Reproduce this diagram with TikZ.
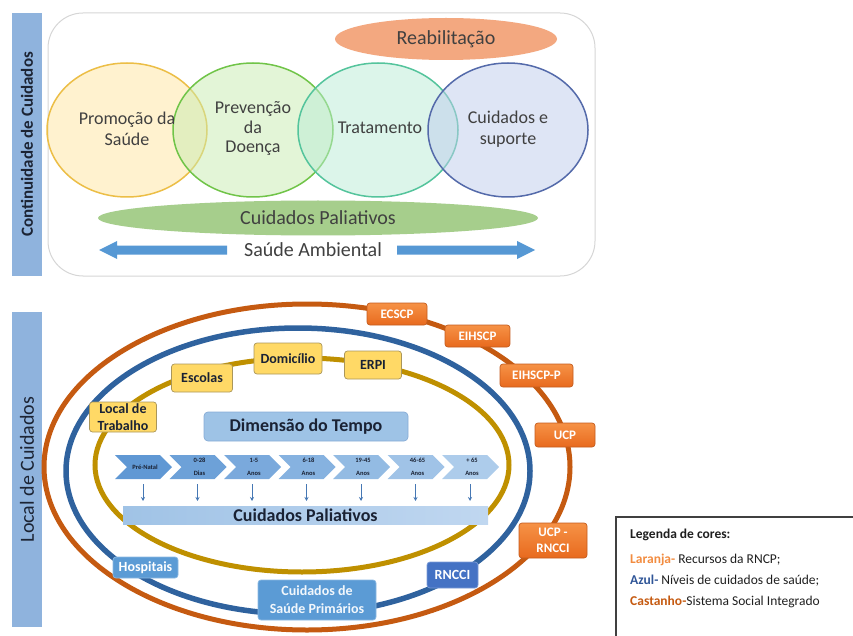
\documentclass[tikz,border=0pt]{standalone}
\usepackage{fontspec}
\setmainfont{Carlito}
\usetikzlibrary{arrows.meta,calc,shapes.geometric}

% palette
\definecolor{sidebar}{RGB}{143,179,221}
\definecolor{sidetext}{RGB}{28,36,52}
\definecolor{softtext}{RGB}{64,64,64}
\definecolor{frame}{RGB}{214,214,214}
\definecolor{promoLine}{RGB}{236,190,70}
\definecolor{promoFill}{RGB}{255,230,160}
\definecolor{prevLine}{RGB}{112,196,72}
\definecolor{prevFill}{RGB}{200,236,176}
\definecolor{tratLine}{RGB}{84,196,156}
\definecolor{tratFill}{RGB}{186,236,214}
\definecolor{supLine}{RGB}{84,106,170}
\definecolor{supFill}{RGB}{190,204,236}
\definecolor{reabFill}{RGB}{243,168,128}
\definecolor{palFill}{RGB}{166,206,140}
\definecolor{ambArrow}{RGB}{86,152,212}
\definecolor{ringBrown}{RGB}{197,90,17}
\definecolor{ringBlue}{RGB}{47,98,158}
\definecolor{ringGold}{RGB}{191,144,0}
\definecolor{placeFill}{RGB}{255,217,102}
\definecolor{placeLine}{RGB}{170,150,90}
\definecolor{resTop}{RGB}{246,146,70}
\definecolor{resBottom}{RGB}{232,106,30}
\definecolor{resLine}{RGB}{196,92,30}
\definecolor{levelFill}{RGB}{91,155,213}
\definecolor{levelDark}{RGB}{68,114,196}
\definecolor{timeFill}{RGB}{158,195,230}
\definecolor{timeLine}{RGB}{135,172,214}
\definecolor{chevA}{RGB}{96,152,212}
\definecolor{chevB}{RGB}{176,206,236}
\definecolor{palBarA}{RGB}{160,195,230}
\definecolor{palBarB}{RGB}{192,215,240}
\definecolor{darkNavy}{RGB}{26,34,52}
\definecolor{tickBlue}{RGB}{70,120,180}
\definecolor{legOrange}{RGB}{242,140,64}
\definecolor{legBlue}{RGB}{47,85,151}
\definecolor{legBrown}{RGB}{197,90,17}
\definecolor{legFrame}{RGB}{64,64,64}

\begin{document}
\begin{tikzpicture}[x=1pt,y=-1pt,
  sidelabel/.style={rotate=90, text=sidetext, inner sep=0pt},
  venn/.style={ellipse, minimum width=160pt, minimum height=134pt, inner sep=0pt,
    line width=1.5pt, fill opacity=0.5},
  venntext/.style={align=center, text=softtext, font=\fontsize{18}{21}\selectfont},
  blob/.style={ellipse, inner sep=0pt, text=softtext, font=\fontsize{20}{24}\selectfont},
  ring/.style={line width=5pt},
  place/.style={draw=placeLine, fill=placeFill, rounded corners=3pt, line width=0.7pt,
    font=\bfseries\fontsize{14}{16.5}\selectfont, text=darkNavy, align=center, inner sep=1pt},
  resource/.style={draw=resLine, top color=resTop, bottom color=resBottom, rounded corners=3pt,
    line width=0.7pt, font=\bfseries\fontsize{13}{16}\selectfont, text=white, align=center, inner sep=1pt},
  level/.style={fill=levelFill, draw=levelFill!70!white, rounded corners=3pt, line width=0.7pt,
    font=\bfseries\fontsize{14}{18}\selectfont, text=white, align=center, inner sep=1pt},
  chevlab/.style={align=center, text=darkNavy, inner sep=0pt,
    font=\bfseries\fontsize{6.5}{13}\selectfont},
  tick/.style={draw=tickBlue, line width=0.8pt, -{Stealth[length=4pt,width=4pt]}},
  legtext/.style={anchor=west, inner sep=0pt, text=black!88, font=\fontsize{13.5}{16}\selectfont}
]
\useasboundingbox (0,0) rectangle (853,636);

% ---------- continuity of care ----------
\fill[sidebar] (12,13) rectangle (42,276);
\node[sidelabel, font=\bfseries\fontsize{17}{20}\selectfont] (contLabel) at (27,144.5) {Continuidade de Cuidados};

\draw[frame, fill=white, line width=1pt, rounded corners=35pt] (48,13) rectangle (595,276);

\node[blob, fill=reabFill, minimum width=222pt, minimum height=42pt] (reab) at (446,39) {Reabilitação};

\node[venn, draw=promoLine, fill=promoFill] (promo) at (127,130) {};
\node[venn, draw=prevLine, fill=prevFill] (prev) at (253,130) {};
\node[venn, draw=tratLine, fill=tratFill] (trat) at (378,130) {};
\node[venn, draw=supLine, fill=supFill] (sup) at (508,130) {};

\node[venntext] (promoT) at (127,129) {Promoção da\\Saúde};
\node[venntext, font=\fontsize{18}{19.5}\selectfont] (prevT) at (253,129) {Prevenção\\da\\Doença};
\node[venntext] (tratT) at (380,128) {Tratamento};
\node[venntext] (supT) at (508,129) {Cuidados e\\suporte};

\node[blob, fill=palFill, minimum width=440pt, minimum height=35pt] (palTop) at (318,218) {Cuidados Paliativos};

\node[text=softtext, font=\fontsize{20}{24}\selectfont, inner sep=0pt] (amb) at (313,250) {Saúde Ambiental};
\fill[ambArrow] (227,245.5) -- (117,245.5) -- (117,241) -- (99,250) -- (117,259) -- (117,254.5) -- (227,254.5) -- cycle;
\fill[ambArrow] (397,245.5) -- (517,245.5) -- (517,241) -- (535,250) -- (517,259) -- (517,254.5) -- (397,254.5) -- cycle;

% ---------- places of care ----------
\fill[sidebar] (12,312) rectangle (42,627);
\node[sidelabel, font=\fontsize{20}{24}\selectfont] (localLabel) at (27,469.5) {Local de Cuidados};

\draw[ring, ringBrown] (307,467) ellipse [x radius=263pt, y radius=163pt];
\draw[ring, ringBlue, line width=5.5pt] (298,471) ellipse [x radius=232pt, y radius=143pt];
\draw[ring, ringGold] (302,465) ellipse [x radius=207pt, y radius=107pt];

% time dimension
\node[fill=timeFill, draw=timeLine, line width=0.7pt, rounded corners=4pt,
  minimum width=204pt, minimum height=29pt, inner sep=0pt, text=darkNavy,
  font=\bfseries\fontsize{18}{20}\selectfont] (tempo) at (306,426.5) {Dimensão do Tempo};

\foreach \i/\lab in {0/{Pré-Natal},1/{0-28\\Dias},2/{1-5\\Anos},3/{6-18\\Anos},4/{19-45\\Anos},5/{46-65\\Anos},6/{+ 65\\Anos}}{
  \pgfmathsetmacro\xl{115+54.5*\i}
  \pgfmathtruncatemacro\mix{100-16*\i}
  \fill[chevA!\mix!chevB] (\xl,455) -- ++(45,0) -- ++(12,12) -- ++(-12,12) -- ++(-45,0) -- ++(12,-12) -- cycle;
  \node[chevlab] (age\i) at (\xl+30,467) {\lab};
  \coordinate (up\i) at (\xl+28,484);
  \coordinate (dn\i) at (\xl+28,501);
  \draw[tick] (up\i) -- (dn\i);
}

\node[left color=palBarA, right color=palBarB, minimum width=365pt, minimum height=18pt,
  inner sep=0pt, text=darkNavy, font=\bfseries\fontsize{18}{20}\selectfont] (palBar) at (305.5,515) {Cuidados Paliativos};

% integrated social system (places)
\node[place, minimum width=67pt, minimum height=30pt] (trabalho) at (123,417) {Local de\\Trabalho};
\node[place, minimum width=61pt, minimum height=28pt] (escolas) at (202,378) {Escolas};
\node[place, minimum width=68pt, minimum height=31pt] (domicilio) at (288,358.5) {Domicílio};
\node[place, minimum width=57pt, minimum height=28pt] (erpi) at (373,365) {ERPI};

% levels of health care
\node[level, minimum width=65pt, minimum height=21pt] (hosp) at (145.5,567.5) {Hospitais};
\node[level, minimum width=118pt, minimum height=40pt, text=white!92!levelFill] (csp) at (317,600) {Cuidados de\\Saúde Primários};
\node[level, fill=levelDark, draw=levelDark!70!white, minimum width=51pt, minimum height=26pt] (rncci) at (452.5,575) {RNCCI};

% palliative care resources
\node[resource, minimum width=60pt, minimum height=22pt] (ecscp) at (397,314) {ECSCP};
\node[resource, minimum width=65pt, minimum height=22pt] (eihscp) at (477.5,336) {EIHSCP};
\node[resource, minimum width=73pt, minimum height=23pt] (eihscpp) at (536.5,375.5) {EIHSCP-P};
\node[resource, minimum width=60pt, minimum height=24pt] (ucp) at (565,435) {UCP};
\node[resource, minimum width=68pt, minimum height=35pt] (ucprnc) at (553,540.5) {UCP -\\RNCCI};

% colour legend
\draw[legFrame, line width=1.2pt] (616,517) rectangle (880,660);
\node[legtext] (leg0) at (630,535) {\textbf{Legenda de cores:}};
\node[legtext] (leg1) at (630,560) {\textcolor{legOrange}{\textbf{Laranja-}} Recursos da RNCP;};
\node[legtext] (leg2) at (630,581) {\textcolor{legBlue}{\textbf{Azul-}} Níveis de cuidados de saúde;};
\node[legtext] (leg3) at (630,602) {\textcolor{legBrown}{\textbf{Castanho-}}Sistema Social Integrado};
\end{tikzpicture}
\end{document}
